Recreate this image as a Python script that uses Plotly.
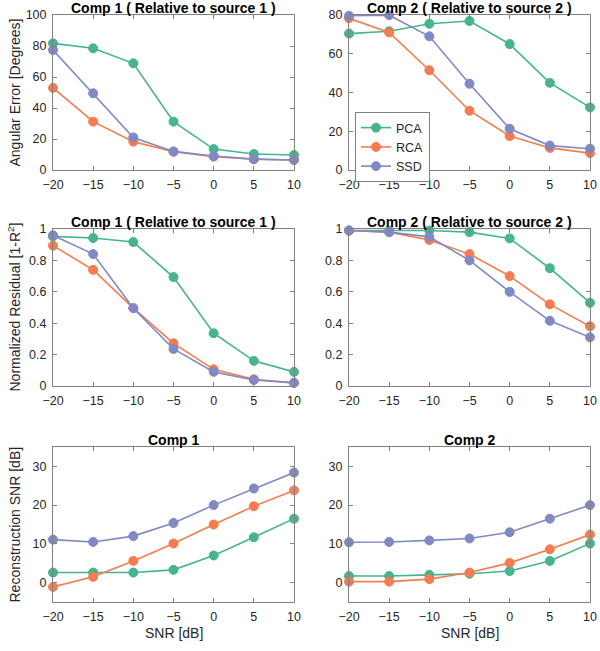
import plotly.graph_objects as go

snr = [-20, -15, -10, -5, 0, 5, 10]
methods = ["PCA", "RCA", "SSD"]
colors = {"PCA": "#46b48c", "RCA": "#f47c50", "SSD": "#8189c4"}

# Angular error, component 1 (relative to source 1)
ang1_pca = [81.7, 78.5, 68.8, 31.2, 13.5, 10.3, 9.7]
ang1_rca = [53.0, 31.2, 18.3, 11.8, 8.6, 6.9, 6.5]
ang1_ssd = [77.4, 49.5, 21.0, 12.0, 9.0, 7.0, 6.5]
# Angular error, component 2 (relative to source 2)
ang2_pca = [70.4, 71.6, 75.5, 76.9, 65.0, 45.0, 32.3]
ang2_rca = [78.3, 71.0, 51.5, 30.6, 17.5, 11.4, 8.7]
ang2_ssd = [79.6, 79.9, 69.0, 44.5, 21.3, 12.6, 11.0]
# Normalized residual, component 1
res1_pca = [0.953, 0.943, 0.917, 0.694, 0.336, 0.16, 0.09]
res1_rca = [0.894, 0.74, 0.496, 0.272, 0.106, 0.043, 0.02]
res1_ssd = [0.96, 0.84, 0.496, 0.236, 0.09, 0.038, 0.02]
# Normalized residual, component 2
res2_pca = [0.99, 0.99, 0.99, 0.98, 0.94, 0.75, 0.53]
res2_rca = [0.99, 0.98, 0.93, 0.84, 0.70, 0.52, 0.38]
res2_ssd = [0.99, 0.98, 0.95, 0.80, 0.60, 0.415, 0.31]
# Reconstruction SNR, component 1
rec1_pca = [2.6, 2.6, 2.6, 3.3, 7.0, 11.7, 16.5]
rec1_rca = [-1.1, 1.5, 5.6, 10.1, 15.0, 19.7, 23.8]
rec1_ssd = [11.1, 10.5, 12.0, 15.4, 20.0, 24.3, 28.4]
# Reconstruction SNR, component 2
rec2_pca = [1.7, 1.7, 2.0, 2.3, 3.0, 5.6, 10.1]
rec2_rca = [0.25, 0.25, 0.9, 2.6, 5.1, 8.6, 12.4]
rec2_ssd = [10.4, 10.5, 10.9, 11.4, 13.0, 16.5, 20.0]

panels = [
    ("Comp 1 ( Relative to source 1 )", [ang1_pca, ang1_rca, ang1_ssd], [0, 100], [0, 20, 40, 60, 80, 100]),
    ("Comp 2 ( Relative to source 2 )", [ang2_pca, ang2_rca, ang2_ssd], [0, 80], [0, 20, 40, 60, 80]),
    ("Comp 1 ( Relative to source 1 )", [res1_pca, res1_rca, res1_ssd], [0, 1], [0, 0.2, 0.4, 0.6, 0.8, 1]),
    ("Comp 2 ( Relative to source 2 )", [res2_pca, res2_rca, res2_ssd], [0, 1], [0, 0.2, 0.4, 0.6, 0.8, 1]),
    ("Comp 1", [rec1_pca, rec1_rca, rec1_ssd], [-5, 35], [0, 10, 20, 30]),
    ("Comp 2", [rec2_pca, rec2_rca, rec2_ssd], [-5, 35], [0, 10, 20, 30]),
]

W, H = 600, 651
xdoms = [(53, 294), (349, 590)]
ydoms = [(15, 170), (229, 386), (447, 602)]

FONT = "Liberation Sans, Arial, Helvetica, sans-serif"
AXC = "#808080"
TXT = "#262626"

fig = go.Figure()
layout = dict(width=W, height=H, margin=dict(l=0, r=0, t=0, b=0, pad=0),
              autosize=False,
              paper_bgcolor="white", plot_bgcolor="white",
              font=dict(family=FONT, size=12, color=TXT), showlegend=True)
annotations = []

for i, (title, series, yr, yt) in enumerate(panels):
    row, col = divmod(i, 2)
    k = "" if i == 0 else str(i + 1)
    x0, x1 = xdoms[col]
    y0, y1 = ydoms[row]
    layout["xaxis" + k] = dict(
        domain=[x0 / W, x1 / W], range=[-20, 10], tickvals=snr,
        ticks="inside", ticklen=4, tickcolor=AXC, showline=True, linecolor=AXC,
        linewidth=1, mirror="ticks", showgrid=False, zeroline=False,
        ticklabelstandoff=3, automargin=False,
        anchor="y" + k, tickfont=dict(size=12.5, color=TXT))
    layout["yaxis" + k] = dict(
        domain=[1 - y1 / H, 1 - y0 / H], range=yr, tickvals=yt,
        ticks="inside", ticklen=4, tickcolor=AXC, showline=True, linecolor=AXC,
        linewidth=1, mirror="ticks", showgrid=False, zeroline=False,
        ticklabelstandoff=3, automargin=False,
        anchor="x" + k, tickfont=dict(size=12.5, color=TXT))
    for m, vals in zip(methods, series):
        fig.add_trace(go.Scatter(
            x=snr, y=vals, mode="lines+markers", name=m,
            line=dict(color=colors[m], width=1.6),
            marker=dict(color=colors[m], size=9, symbol="circle",
                        line=dict(color=colors[m], width=1)),
            cliponaxis=False, showlegend=(i == 1),
            xaxis="x" + k, yaxis="y" + k))
    annotations.append(dict(
        text="<b>" + title + "</b>", x=(x0 + x1) / 2 / W, y=1 - (y0 - 7) / H,
        xref="paper", yref="paper", showarrow=False, xanchor="center",
        yanchor="middle", font=dict(size=14, color="black", family=FONT)))

ytitles = ["Angular Error [Degrees]", "Normalized Residual [1-R<sup>2</sup>]",
           "Reconstruction SNR [dB]"]
for r, t in enumerate(ytitles):
    y0, y1 = ydoms[r]
    annotations.append(dict(
        text=t, x=14 / W, y=1 - (y0 + y1) / 2 / H, xref="paper", yref="paper",
        showarrow=False, textangle=-90, xanchor="center", yanchor="middle",
        font=dict(size=14, color=TXT, family=FONT)))
for c in range(2):
    x0, x1 = xdoms[c]
    annotations.append(dict(
        text="SNR [dB]", x=(x0 + x1) / 2 / W, y=1 - 633 / H, xref="paper",
        yref="paper", showarrow=False, xanchor="center", yanchor="middle",
        font=dict(size=14, color=TXT, family=FONT)))

layout["annotations"] = annotations
layout["legend"] = dict(x=355 / W, y=1 - 112 / H, xanchor="left", yanchor="top",
                        bordercolor=AXC, borderwidth=1, bgcolor="white",
                        font=dict(size=12.5, color=TXT), tracegroupgap=0,
                        itemwidth=30)
fig.update_layout(**layout)
fig.write_html("out.html", config={"responsive": False, "displayModeBar": False},
               post_script="document.body.style.margin='0px';"
                           "document.body.style.overflow='hidden';")
